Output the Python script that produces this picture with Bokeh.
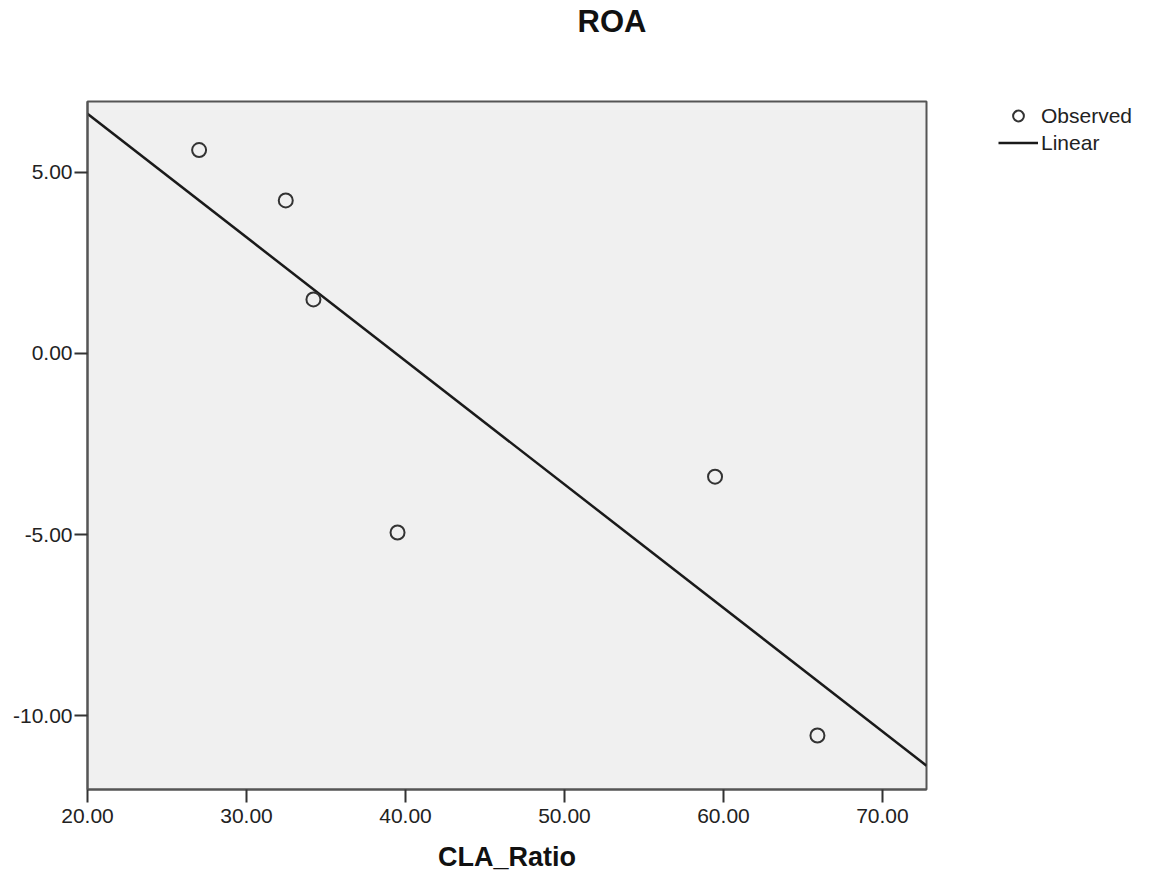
import numpy as np
from bokeh.plotting import figure
from bokeh.models import Range1d, NumeralTickFormatter, Legend, LegendItem, Title
from bokeh.embed import file_html
from bokeh.resources import INLINE

# ---- data ----
cla_ratio = [27.02, 32.47, 34.21, 39.50, 59.47, 65.91]
roa = [5.61, 4.22, 1.49, -4.94, -3.40, -10.54]
x_ticks = [20, 30, 40, 50, 60, 70]
y_ticks = [-10, -5, 0, 5]
title_text = "ROA"
x_label = "CLA_Ratio"
legend_labels = ["Observed", "Linear"]

FONT = "Liberation Sans"
FRAME_W, FRAME_H = 839, 688
LEFT, TOP, RIGHT, BOTTOM = 87, 101, 208, 91

x_range = Range1d(20, 72.77)
y_range = Range1d(-12.03, 6.95)

p = figure(frame_width=FRAME_W, frame_height=FRAME_H,
           min_border_left=LEFT, min_border_top=TOP,
           min_border_right=RIGHT, min_border_bottom=BOTTOM,
           x_range=x_range, y_range=y_range,
           output_backend="svg", toolbar_location=None)

p.background_fill_color = "#F0F0F0"
p.border_fill_color = "white"
p.outline_line_color = "#555555"
p.outline_line_width = 2
p.xgrid.visible = False
p.ygrid.visible = False

for ax, ticks in ((p.xaxis, x_ticks), (p.yaxis, y_ticks)):
    ax.ticker = ticks
    ax.formatter = NumeralTickFormatter(format="0.00")
    ax.axis_line_color = "#555555"
    ax.axis_line_width = 2
    ax.major_tick_line_color = "#333333"
    ax.major_tick_line_width = 2
    ax.major_tick_out = 13
    ax.major_tick_in = 0
    ax.minor_tick_line_color = None
    ax.major_label_text_font = FONT
    ax.major_label_text_font_size = "21px"
    ax.major_label_text_color = "#222222"
p.xaxis.major_label_standoff = 6
p.yaxis.major_label_standoff = 2

p.xaxis.axis_label = x_label
p.xaxis.axis_label_text_font = FONT
p.xaxis.axis_label_text_font_style = "bold"
p.xaxis.axis_label_text_font_size = "27px"
p.xaxis.axis_label_text_color = "#111111"
p.xaxis.axis_label_standoff = 16

# invisible spacer panel between the frame and the title
p.add_layout(Title(text=" ", text_font_size="10px", standoff=50), "above")
# main title (outermost panel)
p.add_layout(Title(text=title_text, text_font=FONT, text_font_style="bold",
                   text_font_size="31px", text_color="#111111",
                   align="left", offset=490, standoff=0), "above")

# linear fit computed from the observed data
slope, intercept = np.polyfit(cla_ratio, roa, 1)
lx = [x_range.start, x_range.end]
ly = [slope * v + intercept for v in lx]

line_r = p.line(lx, ly, line_color="#1a1a1a", line_width=2.5)
pts_r = p.scatter(cla_ratio, roa, marker="circle", size=14,
                  fill_alpha=0, line_color="#333333", line_width=2)

legend = Legend(items=[LegendItem(label=legend_labels[0], renderers=[pts_r]),
                       LegendItem(label=legend_labels[1], renderers=[line_r])],
                location=(72, 633), padding=0, margin=36, spacing=0,
                glyph_width=40, glyph_height=27, label_height=27,
                label_standoff=3, border_line_color=None,
                background_fill_alpha=0,
                label_text_font=FONT, label_text_font_size="21px",
                label_text_color="#222222")
p.add_layout(legend, "right")

open("out.html", "w").write(file_html(p, INLINE))
